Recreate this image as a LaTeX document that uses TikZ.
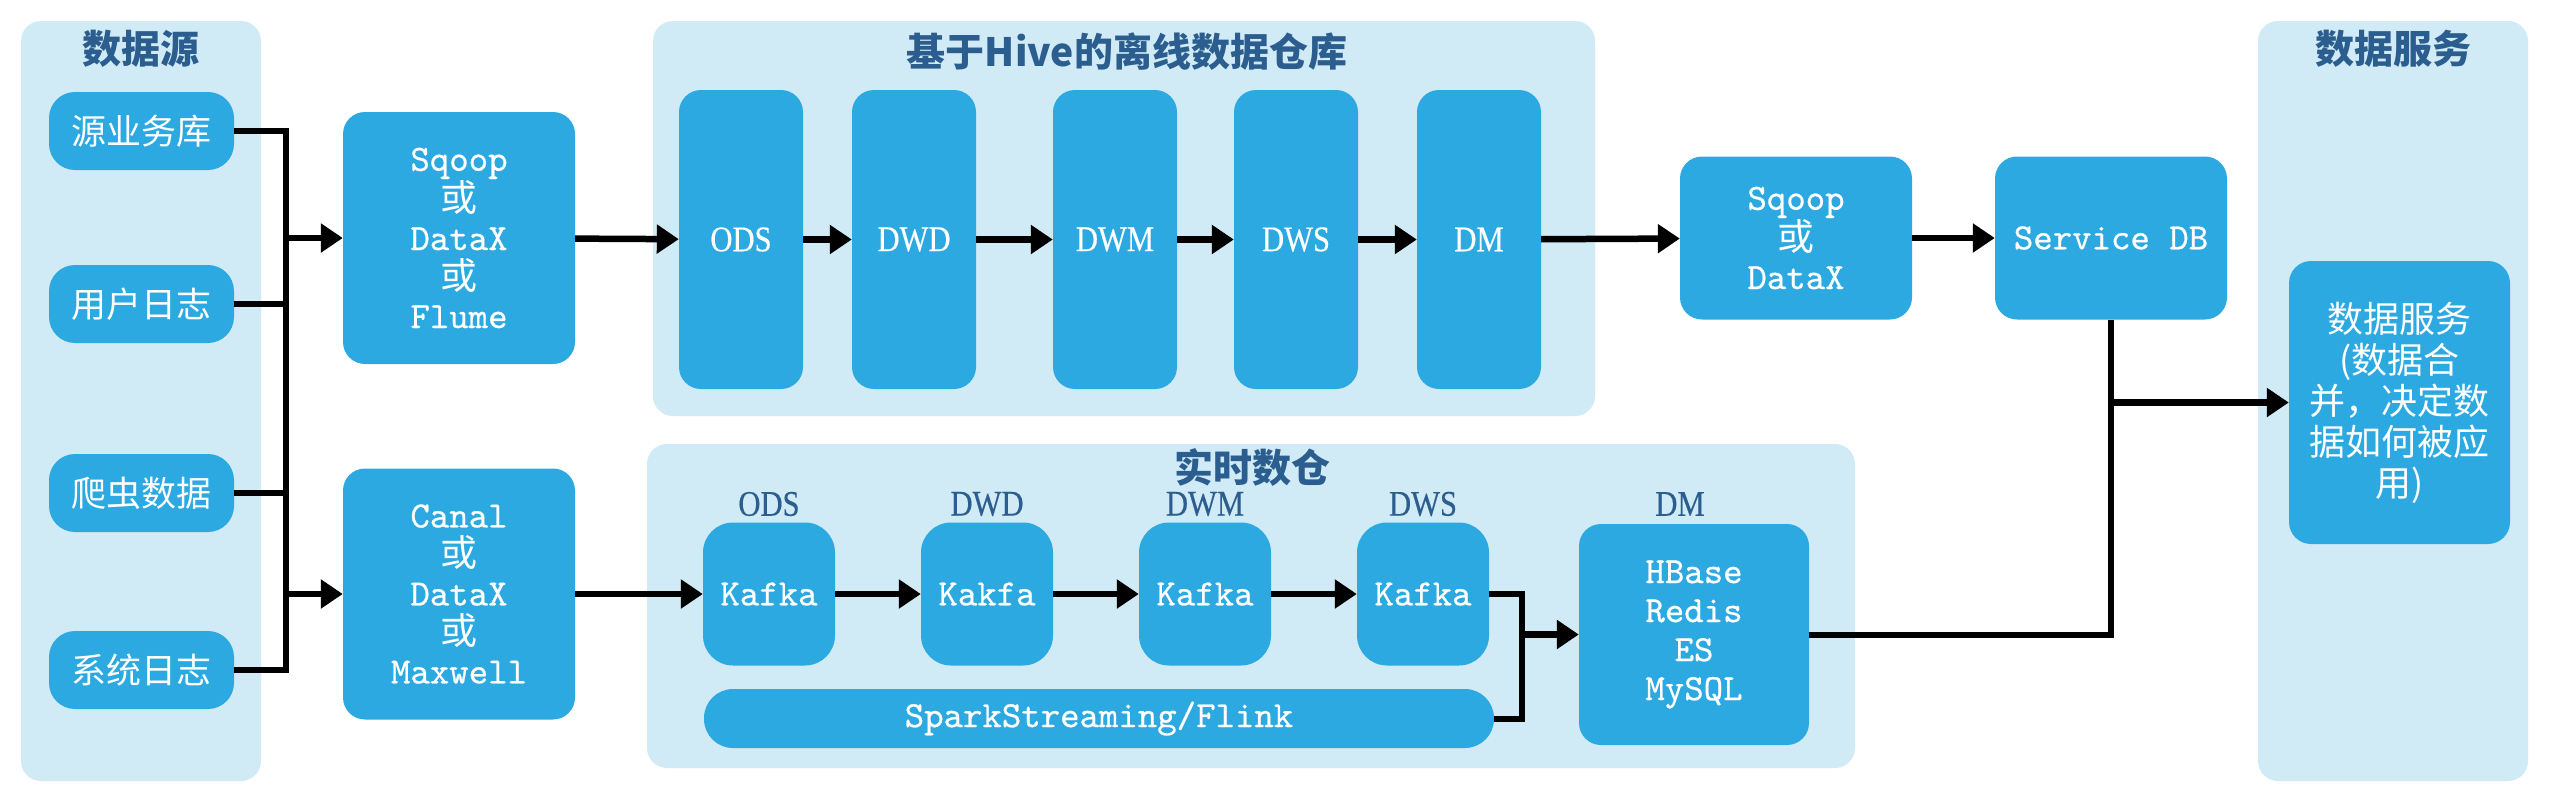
\documentclass[tikz,border=0pt]{standalone}
\usepackage{fontspec}
\usetikzlibrary{arrows.meta}
\newfontfamily\cjkfont{Noto Sans CJK SC}
\newfontfamily\codefont[FakeBold=0.6]{lmmono10-regular.otf}
\newfontfamily\layerfont[FakeStretch=0.85,FakeBold=0.4]{Liberation Serif}
\definecolor{boxblue}{HTML}{2DA9E1}
\definecolor{panelblue}{HTML}{D0EAF6}
\definecolor{titleblue}{HTML}{2B5E8E}
\begin{document}
\begin{tikzpicture}
[x=1pt,y=-1pt,
  paneldecorate/.style={fill=panelblue,rounded corners=20pt,inner sep=0pt},%
  boxdecorate/.style={fill=boxblue,rounded corners=22pt,inner sep=0pt,text=white,align=center},%
  titledecorate/.style={text=titleblue,font=\cjkfont\bfseries\fontsize{39}{42}\selectfont},%
  labeldecorate/.style={text=titleblue,font=\layerfont\fontsize{36}{38}\selectfont},%
  cjktext/.style={font=\cjkfont\fontsize{35}{41}\selectfont},%
  codetext/.style={font=\codefont\fontsize{37}{39}\selectfont},%
  layertext/.style={font=\layerfont\fontsize{36}{38}\selectfont},%
  linedecorate/.style={-,line width=6pt,line join=miter},%
  arrowdecorate/.style={-{Triangle[length=22pt,width=28pt]},line width=6.5pt}]
\useasboundingbox (0,0) rectangle (2560,801);
%% panels
\node (srcpanel) at (141,401) [paneldecorate,minimum width=240pt,minimum height=760pt] {};
\node (hivepanel) at (1124,218.5) [paneldecorate,minimum width=942pt,minimum height=395pt] {};
\node (rtpanel) at (1251,606) [paneldecorate,minimum width=1208pt,minimum height=324pt] {};
\node (svcpanel) at (2393,401) [paneldecorate,minimum width=270pt,minimum height=760pt] {};
\node (srctitle) at (141,49) [titledecorate] {数据源};
\node (hivetitle) at (1127,52) [titledecorate] {基于Hive的离线数据仓库};
\node (rttitle) at (1252,467) [titledecorate] {实时数仓};
\node (svctitle) at (2393,49) [titledecorate] {数据服务};
%% data sources
\foreach \nodename/\y/\txt in {src1/131/源业务库, src2/304/用户日志, src3/493/爬虫数据, src4/670/系统日志} {
  \node (\nodename) at (141.5,\y) [boxdecorate,cjktext,rounded corners=26pt,minimum width=185pt,minimum height=78pt] {\txt};
}
%% collectors
\node (sqoop) at (459,238) [boxdecorate,codetext,minimum width=232pt,minimum height=252pt]
  {Sqoop\\{\cjkfont 或}\\DataX\\{\cjkfont 或}\\Flume};
\node (canal) at (459,594) [boxdecorate,codetext,minimum width=232pt,minimum height=251pt]
  {Canal\\{\cjkfont 或}\\DataX\\{\cjkfont 或}\\Maxwell};
%% offline layers
\foreach \nodename/\x/\txt in {ods/741/ODS, dwd/914/DWD, dwm/1115/DWM, dws/1296/DWS, dm/1479/DM} {
  \node (\nodename) at (\x,239.5) [boxdecorate,layertext,minimum width=124pt,minimum height=299pt] {\txt};
}
\node (export) at (1796,238) [boxdecorate,codetext,minimum width=232pt,minimum height=163pt]
  {Sqoop\\{\cjkfont 或}\\DataX};
\node (svcdb) at (2111,238) [boxdecorate,codetext,minimum width=232pt,minimum height=163pt] {Service DB};
\node (svc) at (2399.5,402.5) [boxdecorate,cjktext,font=\cjkfont\fontsize{36}{41}\selectfont,minimum width=221pt,minimum height=283pt]
  {数据服务\\(数据合\\并，决定数\\据如何被应\\用)};
%% realtime layers
\foreach \nodename/\x/\lbl/\txt in {kafka1/769/ODS/Kafka, kafka2/987/DWD/Kakfa, kafka3/1205/DWM/Kafka, kafka4/1423/DWS/Kafka} {
  \node (\nodename) at (\x,594) [boxdecorate,codetext,rounded corners=30pt,minimum width=132pt,minimum height=143pt] {\txt};
  \node (\nodename lbl) at (\x,504) [labeldecorate] {\lbl};
}
\node (spark) at (1099,718.5) [boxdecorate,codetext,rounded corners=29pt,minimum width=790pt,minimum height=59pt] {SparkStreaming/Flink};
\node (dmrt) at (1694,634.5) [boxdecorate,codetext,minimum width=230pt,minimum height=221pt]
  {HBase\\Redis\\ES\\MySQL};
\node (dmrtlbl) at (1680,504) [labeldecorate] {DM};
\coordinate (bus) at (286,0);
\coordinate (merge) at (1522,634.5);
%% edges or lines
\draw[linedecorate] (src1.east) -- (src1.east -| bus) -- (src4.east -| bus) -- (src4.east);
\draw[linedecorate] (src2.east) -- (src2.east -| bus);
\draw[linedecorate] (src3.east) -- (src3.east -| bus);
\draw[arrowdecorate] (sqoop.west -| bus) -- (sqoop.west);
\draw[arrowdecorate] (canal.west -| bus) -- (canal.west);
\path
\foreach \startnode/\endnode in {sqoop/ods, ods/dwd, dwd/dwm, dwm/dws, dws/dm, dm/export, export/svcdb,
  canal/kafka1, kafka1/kafka2, kafka2/kafka3, kafka3/kafka4} {
  (\startnode) edge[arrowdecorate] (\endnode)
};
\draw[linedecorate] (kafka4.east) -| (merge) |- (spark.east);
\draw[arrowdecorate] (merge) -- (dmrt.west);
\draw[linedecorate] (svcdb.south) -- (svcdb.south |- dmrt.east) -- (dmrt.east);
\draw[arrowdecorate] (svcdb.south |- svc.west) -- (svc.west);
\end{tikzpicture}
\end{document}
